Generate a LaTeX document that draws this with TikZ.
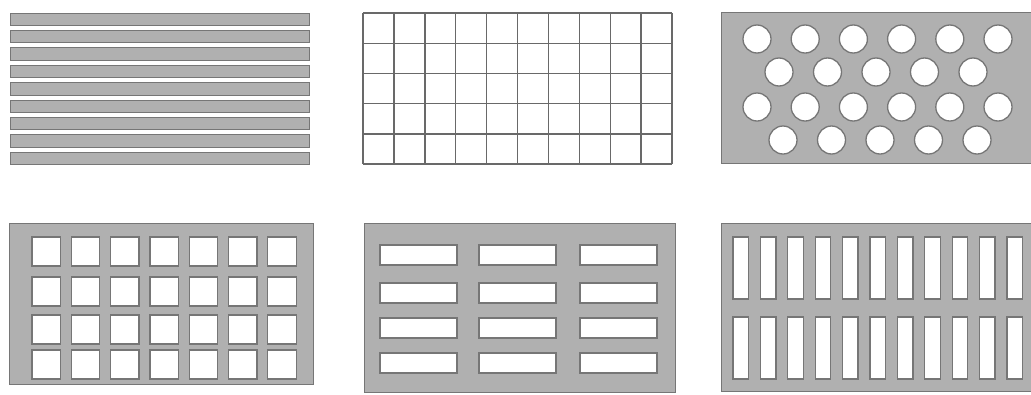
\documentclass[tikz,border=0pt]{standalone}
\usepackage{tikz}
\definecolor{plategray}{RGB}{176,176,176}
\definecolor{edgegray}{RGB}{118,118,118}
\definecolor{wiregray}{RGB}{105,105,105}

\begin{document}
\begin{tikzpicture}[x=1pt, y=-1pt,
    plate/.style={fill=plategray, draw=edgegray, line width=1pt},
    hole/.style={fill=white, draw=edgegray, line width=1.3pt},
    wire/.style={draw=wiregray, line width=1.4pt}]
    \useasboundingbox (0,0) rectangle (1031,394);

    % bars
    \foreach \i in {0,...,8} {
        \draw[plate] (10,13+17.4*\i) rectangle (309,25.5+17.4*\i);
    }

    % wire mesh
    \coordinate (G1) at (363,13); \coordinate (G2) at (672,164);
    \foreach \i in {0,...,10} { \draw[wire] (363+30.9*\i,13) -- (363+30.9*\i,164); }
    \foreach \j in {0,...,5} { \draw[wire] (363,13+30.2*\j) -- (672,13+30.2*\j); }

    % round holes
    \draw[plate] (721,12) rectangle (1033,163);
    \foreach \y in {39,107} {
        \foreach \i in {0,...,5} { \draw[hole] (757+48.2*\i,\y) circle (14); }
    }
    \foreach \x/\y in {779/72, 783/140} {
        \foreach \i in {0,...,4} { \draw[hole] (\x+48.5*\i,\y) circle (14); }
    }

    % square holes
    \draw[plate] (9,223) rectangle (313,384);
    \foreach \y in {237,277,315,350} {
        \foreach \i in {0,...,6} { \draw[hole] (32+39.3*\i,\y) rectangle ++(28.5,29); }
    }

    % horizontal slots
    \draw[plate] (364,223) rectangle (675,392);
    \foreach \y in {245,283,318,353} {
        \foreach \x in {380,479,580} { \draw[hole] (\x,\y) rectangle ++(77,20); }
    }

    % vertical slots
    \draw[plate] (721,223) rectangle (1033,391);
    \foreach \y in {237,317} {
        \foreach \i in {0,...,10} { \draw[hole] (733+27.4*\i,\y) rectangle ++(15.5,62); }
    }
\end{tikzpicture}
\end{document}
